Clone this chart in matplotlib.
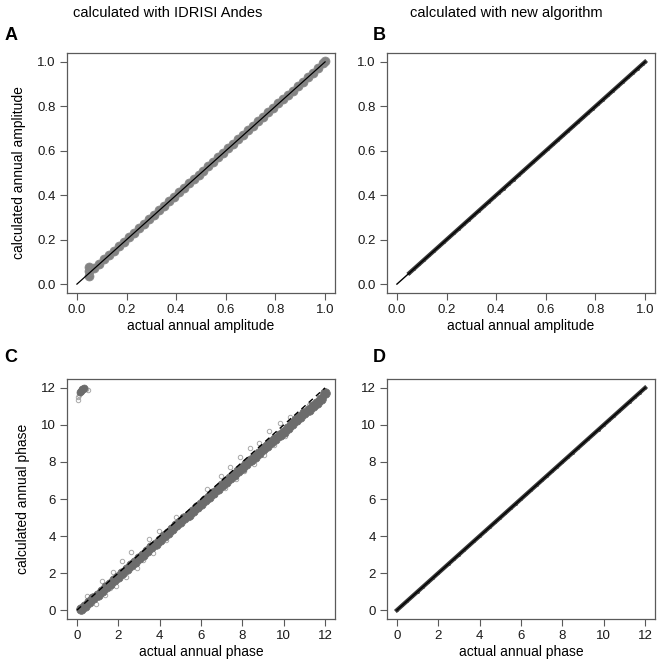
"""Actual vs calculated annual amplitude / phase (IDRISI Andes vs new algorithm)."""

import matplotlib
matplotlib.use("Agg")
import matplotlib.pyplot as plt

plt.rcParams["font.family"] = ["Liberation Sans", "DejaVu Sans"]

# ─── data ───
# amplitude, IDRISI Andes (panel A)
amp_actual = [0.05, 0.05, 0.05, 0.07, 0.09, 0.11, 0.13, 0.15, 0.17, 0.19, 0.21,
              0.23, 0.25, 0.27, 0.29, 0.31, 0.33, 0.35, 0.37, 0.39, 0.41, 0.43,
              0.45, 0.47, 0.49, 0.51, 0.53, 0.55, 0.57, 0.59, 0.61, 0.63, 0.65,
              0.67, 0.69, 0.71, 0.73, 0.75, 0.77, 0.79, 0.81, 0.83, 0.85, 0.87,
              0.89, 0.91, 0.93, 0.95, 0.97, 0.99, 1.00]
amp_idrisi = [0.038, 0.058, 0.078, 0.073, 0.092, 0.112, 0.133, 0.151, 0.173,
              0.191, 0.213, 0.231, 0.253, 0.271, 0.293, 0.311, 0.333, 0.351, 0.373,
              0.391, 0.413, 0.431, 0.453, 0.471, 0.493, 0.511, 0.533, 0.551, 0.573,
              0.591, 0.613, 0.631, 0.653, 0.671, 0.693, 0.711, 0.733, 0.751, 0.773,
              0.791, 0.813, 0.831, 0.853, 0.871, 0.893, 0.911, 0.933, 0.951, 0.973,
              0.993, 1.004]
# amplitude, new algorithm (panel B)
amp_new_actual = [0.05, 0.07, 0.09, 0.11, 0.13, 0.15, 0.17, 0.19, 0.21, 0.23, 0.25,
                  0.27, 0.29, 0.31, 0.33, 0.35, 0.37, 0.39, 0.41, 0.43, 0.45, 0.47,
                  0.49, 0.51, 0.53, 0.55, 0.57, 0.59, 0.61, 0.63, 0.65, 0.67, 0.69,
                  0.71, 0.73, 0.75, 0.77, 0.79, 0.81, 0.83, 0.85, 0.87, 0.89, 0.91,
                  0.93, 0.95, 0.97, 0.99, 1.00]
amp_new_calc = [0.05, 0.07, 0.09, 0.11, 0.13, 0.15, 0.17, 0.19, 0.21, 0.23, 0.25,
                0.27, 0.29, 0.31, 0.33, 0.35, 0.37, 0.39, 0.41, 0.43, 0.45, 0.47,
                0.49, 0.51, 0.53, 0.55, 0.57, 0.59, 0.61, 0.63, 0.65, 0.67, 0.69,
                0.71, 0.73, 0.75, 0.77, 0.79, 0.81, 0.83, 0.85, 0.87, 0.89, 0.91,
                0.93, 0.95, 0.97, 0.99, 1.00]

# phase, IDRISI Andes (panel C): main band
phase_actual = [0.2, 0.4, 0.6, 0.8, 1.0, 1.2, 1.4, 1.6, 1.8, 2.0, 2.2, 2.4, 2.6, 2.8,
                3.0, 3.2, 3.4, 3.6, 3.8, 4.0, 4.2, 4.4, 4.6, 4.8, 5.0, 5.2, 5.4, 5.6,
                5.8, 6.0, 6.2, 6.4, 6.6, 6.8, 7.0, 7.2, 7.4, 7.6, 7.8, 8.0, 8.2, 8.4,
                8.6, 8.8, 9.0, 9.2, 9.4, 9.6, 9.8, 10.0, 10.2, 10.4, 10.6, 10.8, 11.0,
                11.2, 11.4, 11.6, 11.8, 12.0]
phase_idrisi = [0.05, 0.24, 0.44, 0.63, 0.83, 1.02, 1.23, 1.42, 1.62, 1.81, 2.02,
                2.21, 2.41, 2.60, 2.81, 2.99, 3.20, 3.39, 3.59, 3.78, 3.99, 4.17,
                4.38, 4.57, 4.77, 4.96, 5.16, 5.35, 5.55, 5.74, 5.95, 6.13, 6.34,
                6.52, 6.73, 6.92, 7.12, 7.30, 7.51, 7.69, 7.90, 8.08, 8.29, 8.47,
                8.68, 8.86, 9.07, 9.25, 9.46, 9.64, 9.85, 10.03, 10.24, 10.42, 10.63,
                10.81, 11.02, 11.20, 11.42, 11.70]
# scattered points off the band
phase_out_x = [0.5, 0.9, 1.2, 1.35, 1.6, 1.75, 1.9, 2.2, 2.35, 2.6, 2.9, 3.2, 3.5,
               3.7, 3.95, 4.3, 4.8, 5.4, 5.9, 6.3, 6.7, 6.95, 7.15, 7.4, 7.7, 7.9,
               8.1, 8.35, 8.55, 8.8, 9.05, 9.3, 9.55, 9.8, 10.05, 10.3, 10.7, 11.2]
phase_out_y = [0.75, 0.35, 1.55, 0.80, 1.20, 2.05, 1.30, 2.65, 1.80, 3.15, 2.30, 2.70,
               3.85, 3.10, 4.25, 3.80, 5.05, 4.95, 5.45, 6.55, 6.20, 7.25, 6.60, 7.75,
               7.10, 8.25, 7.50, 8.75, 7.90, 9.05, 8.40, 9.65, 8.90, 10.1, 9.40,
               10.45, 10.15, 11.1]
# wrapped-around phases near the top-left corner
wrap_core_x = [0.15, 0.20, 0.25, 0.30, 0.35]
wrap_core_y = [11.78, 11.85, 11.92, 11.95, 11.98]
wrap_out_x = [0.05, 0.07, 0.10, 0.12, 0.42, 0.55]
wrap_out_y = [11.35, 11.50, 11.60, 11.70, 11.95, 11.90]

# phase, new algorithm (panel D)
phase_new_actual = [0.0, 0.25, 0.5, 0.75, 1.0, 1.25, 1.5, 1.75, 2.0, 2.25, 2.5, 2.75,
                    3.0, 3.25, 3.5, 3.75, 4.0, 4.25, 4.5, 4.75, 5.0, 5.25, 5.5, 5.75,
                    6.0, 6.25, 6.5, 6.75, 7.0, 7.25, 7.5, 7.75, 8.0, 8.25, 8.5, 8.75,
                    9.0, 9.25, 9.5, 9.75, 10.0, 10.25, 10.5, 10.75, 11.0, 11.25, 11.5,
                    11.75, 12.0]
phase_new_calc = [0.0, 0.25, 0.5, 0.75, 1.0, 1.25, 1.5, 1.75, 2.0, 2.25, 2.5, 2.75,
                  3.0, 3.25, 3.5, 3.75, 4.0, 4.25, 4.5, 4.75, 5.0, 5.25, 5.5, 5.75,
                  6.0, 6.25, 6.5, 6.75, 7.0, 7.25, 7.5, 7.75, 8.0, 8.25, 8.5, 8.75,
                  9.0, 9.25, 9.5, 9.75, 10.0, 10.25, 10.5, 10.75, 11.0, 11.25, 11.5,
                  11.75, 12.0]

# 1:1 reference lines
amp_ref = [0.0, 1.0]
phase_ref = [0.0, 12.0]

amp_ticks = [0.0, 0.2, 0.4, 0.6, 0.8, 1.0]
phase_ticks = [0, 2, 4, 6, 8, 10, 12]

FRAME = "#5a5a5a"

fig = plt.figure(figsize=(6.61, 6.63), dpi=100)
W, H = 661, 663


def make_ax(left, top, right, bottom):
    return fig.add_axes([left / W, 1 - bottom / H, (right - left) / W, (bottom - top) / H])


def style(ax, lim, ticks, fmt):
    ax.set_xlim(*lim)
    ax.set_ylim(*lim)
    ax.set_xticks(ticks)
    ax.set_yticks(ticks)
    ax.set_xticklabels([fmt.format(t) for t in ticks])
    ax.set_yticklabels([fmt.format(t) for t in ticks])
    for s in ax.spines.values():
        s.set_color(FRAME)
        s.set_linewidth(0.9)
    ax.tick_params(direction="out", length=5, width=0.8, color=FRAME,
                   labelsize=9.5, labelcolor="#1a1a1a", pad=3)


axA = make_ax(67, 53, 335, 293)
axB = make_ax(387, 53, 655, 293)
axC = make_ax(67, 379, 335, 619)
axD = make_ax(387, 379, 655, 619)

# Panel A
axA.plot(amp_actual, amp_idrisi, "o", ms=6.5, mfc="#838383", mec="#8a8a8a", mew=0.5)
axA.plot(amp_ref, amp_ref, "-", color="black", lw=0.9)
style(axA, (-0.04, 1.04), amp_ticks, "{:.1f}")
axA.set_xlabel("actual annual amplitude", fontsize=10, labelpad=2)
axA.set_ylabel("calculated annual amplitude", fontsize=10, labelpad=8)

# Panel B
axB.plot(amp_new_actual, amp_new_calc, "o-", ms=2, mew=0, lw=3.0, color="#383838")
axB.plot(amp_ref, amp_ref, "-", color="black", lw=1.0)
style(axB, (-0.04, 1.04), amp_ticks, "{:.1f}")
axB.set_xlabel("actual annual amplitude", fontsize=10, labelpad=2)

# Panel C
axC.plot(phase_out_x, phase_out_y, "o", ms=3.2, mfc="none", mec="#a8a8a8", mew=0.7)
axC.plot(wrap_out_x, wrap_out_y, "o", ms=3.2, mfc="none", mec="#a8a8a8", mew=0.7)
axC.plot(phase_actual, phase_idrisi, "o", ms=7, mfc="#6c6c6c", mec="#6c6c6c", mew=0.5)
axC.plot(wrap_core_x, wrap_core_y, "o", ms=5, mfc="#6c6c6c", mec="#6c6c6c", mew=0.5)
axC.plot(phase_ref, phase_ref, color="black", lw=1.0, linestyle=(0, (4, 3)))
style(axC, (-0.48, 12.48), phase_ticks, "{:d}")
axC.set_xlabel("actual annual phase", fontsize=10, labelpad=2)
axC.set_ylabel("calculated annual phase", fontsize=10, labelpad=8)

# Panel D
axD.plot(phase_new_actual, phase_new_calc, "o-", ms=2, mew=0, lw=3.0, color="#383838")
axD.plot(phase_ref, phase_ref, "-", color="black", lw=1.0)
style(axD, (-0.48, 12.48), phase_ticks, "{:d}")
axD.set_xlabel("actual annual phase", fontsize=10, labelpad=2)

# column headings and panel letters
fig.text(168 / W, 1 - 13 / H, "calculated with IDRISI Andes", ha="center", va="center", fontsize=10.5)
fig.text(506 / W, 1 - 13 / H, "calculated with new algorithm", ha="center", va="center", fontsize=10.5)
for letter, x, y in [("A", 11, 35), ("B", 379, 35), ("C", 11, 358), ("D", 379, 358)]:
    fig.text(x / W, 1 - y / H, letter, ha="center", va="center", fontsize=13, fontweight="bold")

fig.savefig("out.png", dpi=100)
